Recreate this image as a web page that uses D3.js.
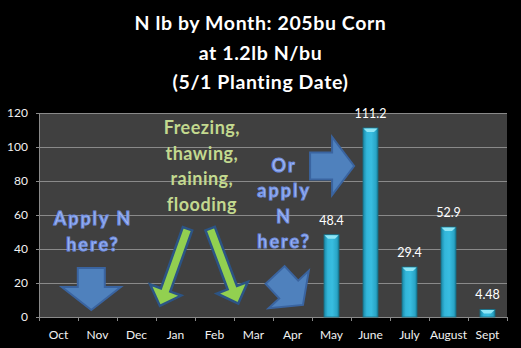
<!DOCTYPE html>
<html>
<head>
<meta charset="utf-8">
<script src="https://cdn.jsdelivr.net/npm/d3@7"></script>
<style>
  html, body { margin: 0; padding: 0; background: #000; }
  svg { display: block; }
  text { font-family: Lato, "Open Sans", sans-serif; }
</style>
</head>
<body>
<svg id="chart" width="521" height="348"></svg>
<script>
// Monthly nitrogen uptake (lb N) for 205 bu corn, planted May 1
const months = ["Oct", "Nov", "Dec", "Jan", "Feb", "Mar", "Apr", "May", "June", "July", "August", "Sept"];
const nValues = [null, null, null, null, null, null, null, 48.4, 111.2, 29.4, 52.9, 4.48];
const valueLabels = ["", "", "", "", "", "", "", "48.4", "111.2", "29.4", "52.9", "4.48"];
const yTicks = [0, 20, 40, 60, 80, 100, 120];
const titleLines = ["N lb by Month: 205bu Corn", "at 1.2lb N/bu", "(5/1 Planting Date)"];

const W = 521, H = 348;
const m = { left: 39, right: 14, top: 113, bottom: 31 };
const pw = W - m.left - m.right, ph = H - m.top - m.bottom;

const svg = d3.select("#chart");
svg.append("rect").attr("width", W).attr("height", H).attr("fill", "#000");

// Title
svg.append("g").selectAll("text").data(titleLines).join("text")
  .attr("x", W / 2).attr("y", (d, i) => 30 + i * 29.5)
  .attr("text-anchor", "middle").attr("fill", "#fff")
  .attr("font-size", 19.5).attr("font-weight", 700).attr("letter-spacing", 0.6)
  .text(d => d);

const g = svg.append("g").attr("transform", `translate(${m.left},${m.top})`);

const x = d3.scaleBand().domain(months).range([0, pw]);
const y = d3.scaleLinear().domain([0, 120]).range([ph, 0]);
// month-unit position scale used to place the annotations
const xu = d3.scaleLinear().domain([0, months.length]).range([0, pw]);

// Plot background
g.append("rect").attr("width", pw).attr("height", ph).attr("fill", "#404040");

// Gridlines
g.append("g").selectAll("line").data(yTicks.filter(t => t > 0)).join("line")
  .attr("x1", 0).attr("x2", pw)
  .attr("y1", d => y(d)).attr("y2", d => y(d))
  .attr("stroke", "#8a8a8a").attr("stroke-width", 1).attr("shape-rendering", "crispEdges");

// Y axis
const yAxis = g.append("g").call(d3.axisLeft(y).tickValues(yTicks).tickSize(3).tickPadding(8));
yAxis.select(".domain").attr("stroke", "#8a8a8a");
yAxis.selectAll(".tick line").attr("stroke", "#8a8a8a");
yAxis.selectAll(".tick text").attr("fill", "#f2f2f2").attr("font-size", 12)
  .attr("font-family", "Lato, sans-serif");

// X axis with ticks on category boundaries
const xAxisG = g.append("g").attr("transform", `translate(0,${ph})`);
xAxisG.append("line").attr("x1", 0).attr("x2", pw).attr("stroke", "#8a8a8a")
  .attr("shape-rendering", "crispEdges");
xAxisG.selectAll(".bt").data(d3.range(months.length + 1)).join("line")
  .attr("class", "bt")
  .attr("x1", d => xu(d)).attr("x2", d => xu(d)).attr("y1", 0).attr("y2", 4)
  .attr("stroke", "#8a8a8a").attr("shape-rendering", "crispEdges");
xAxisG.selectAll("text").data(months).join("text")
  .attr("x", d => x(d) + x.bandwidth() / 2).attr("y", 22)
  .attr("text-anchor", "middle").attr("fill", "#f2f2f2").attr("font-size", 12)
  .text(d => d);

// Bar gradient
const defs = svg.append("defs");
const grad = defs.append("linearGradient").attr("id", "barGrad")
  .attr("x1", "0%").attr("x2", "100%").attr("y1", "0%").attr("y2", "0%");
[["0%", "#1a87a5"], ["25%", "#33b6da"], ["55%", "#38bde0"], ["85%", "#2aa6c8"], ["100%", "#18809c"]]
  .forEach(([o, c]) => grad.append("stop").attr("offset", o).attr("stop-color", c));

const data = months.map((mo, i) => ({ month: mo, value: nValues[i], label: valueLabels[i] }))
  .filter(d => d.value != null);
const bw = 15;
const bars = g.append("g").selectAll("g").data(data).join("g");
bars.append("rect")
  .attr("x", d => x(d.month) + (x.bandwidth() - bw) / 2)
  .attr("y", d => y(d.value))
  .attr("width", bw).attr("height", d => ph - y(d.value))
  .attr("fill", "url(#barGrad)").attr("stroke", "#176f86").attr("stroke-width", 0.8);
// bevelled cap on top of each bar
bars.append("path")
  .attr("d", d => {
    const x0 = x(d.month) + (x.bandwidth() - bw) / 2, y0 = y(d.value);
    const h = Math.min(4, ph - y0);
    return `M${x0 + 0.5},${y0 + 0.5}H${x0 + bw - 0.5}L${x0 + bw - 4},${y0 + h}H${x0 + 4}Z`;
  })
  .attr("fill", "#8fe6f6");
bars.append("text")
  .attr("x", d => x(d.month) + x.bandwidth() / 2)
  .attr("y", d => y(d.value) - 10)
  .attr("text-anchor", "middle").attr("fill", "#fff").attr("font-size", 12.5)
  .text(d => d.label);

// Block arrow pointing along angle (degrees), tip at (tx, ty)
function arrowPath(tx, ty, angle, L, Hh, Wh, S) {
  const pts = [[-L, -S / 2], [-Hh, -S / 2], [-Hh, -Wh / 2], [0, 0], [-Hh, Wh / 2], [-Hh, S / 2], [-L, S / 2]];
  const a = angle * Math.PI / 180, c = Math.cos(a), s = Math.sin(a);
  return "M" + pts.map(([px, py]) => [tx + px * c - py * s, ty + px * s + py * c].map(v => v.toFixed(1)).join(",")).join("L") + "Z";
}

const blueArrows = [
  { u: 1.34, v: 4.1, angle: 90, L: 42, Hh: 23, Wh: 59, S: 27 },
  { u: 8.08, v: 88.8, angle: 0, L: 44, Hh: 22, Wh: 58, S: 27 },
  { u: 6.77, v: 7.1, angle: 47, L: 41, Hh: 21, Wh: 55, S: 26 }
];
g.append("g").selectAll("path").data(blueArrows).join("path")
  .attr("d", d => arrowPath(xu(d.u), y(d.v), d.angle, d.L, d.Hh, d.Wh, d.S))
  .attr("fill", "#4f81bd").attr("stroke", "#3a64a0").attr("stroke-width", 2)
  .attr("stroke-linejoin", "miter");

const greenArrows = [
  { u: 3.10, v: 6.5, angle: 109.7, L: 82, Hh: 17, Wh: 33, S: 10 },
  { u: 5.11, v: 7.9, angle: 69.4, L: 80, Hh: 17, Wh: 33, S: 10 }
];
g.append("g").selectAll("path").data(greenArrows).join("path")
  .attr("d", d => arrowPath(xu(d.u), y(d.v), d.angle, d.L, d.Hh, d.Wh, d.S))
  .attr("fill", "#92d050").attr("stroke", "#2c5485").attr("stroke-width", 2.5)
  .attr("stroke-linejoin", "miter");

// Annotation text blocks
const notes = [
  { u: 1.36, v: 54.1, lines: ["Apply N", "here?"], fill: "#a3b8f3", stroke: "#6d8de0", ls: 2 },
  { u: 4.17, v: 107.6, lines: ["Freezing,", "thawing,", "raining,", "flooding"], fill: "#c3d98f", stroke: "none", ls: 0.5 },
  { u: 6.26, v: 85.5, lines: ["Or", "apply", "N", "here?"], fill: "#a3b8f3", stroke: "#6d8de0", ls: 2 }
];
notes.forEach(n => {
  g.append("g").selectAll("text").data(n.lines).join("text")
    .attr("x", xu(n.u) + n.ls / 2).attr("y", (d, i) => y(n.v) + i * 25.5)
    .attr("text-anchor", "middle").attr("font-size", 18).attr("font-weight", 700)
    .attr("letter-spacing", n.ls)
    .attr("fill", n.fill).attr("stroke", n.stroke).attr("stroke-width", 1)
    .text(d => d);
});
</script>
</body>
</html>
